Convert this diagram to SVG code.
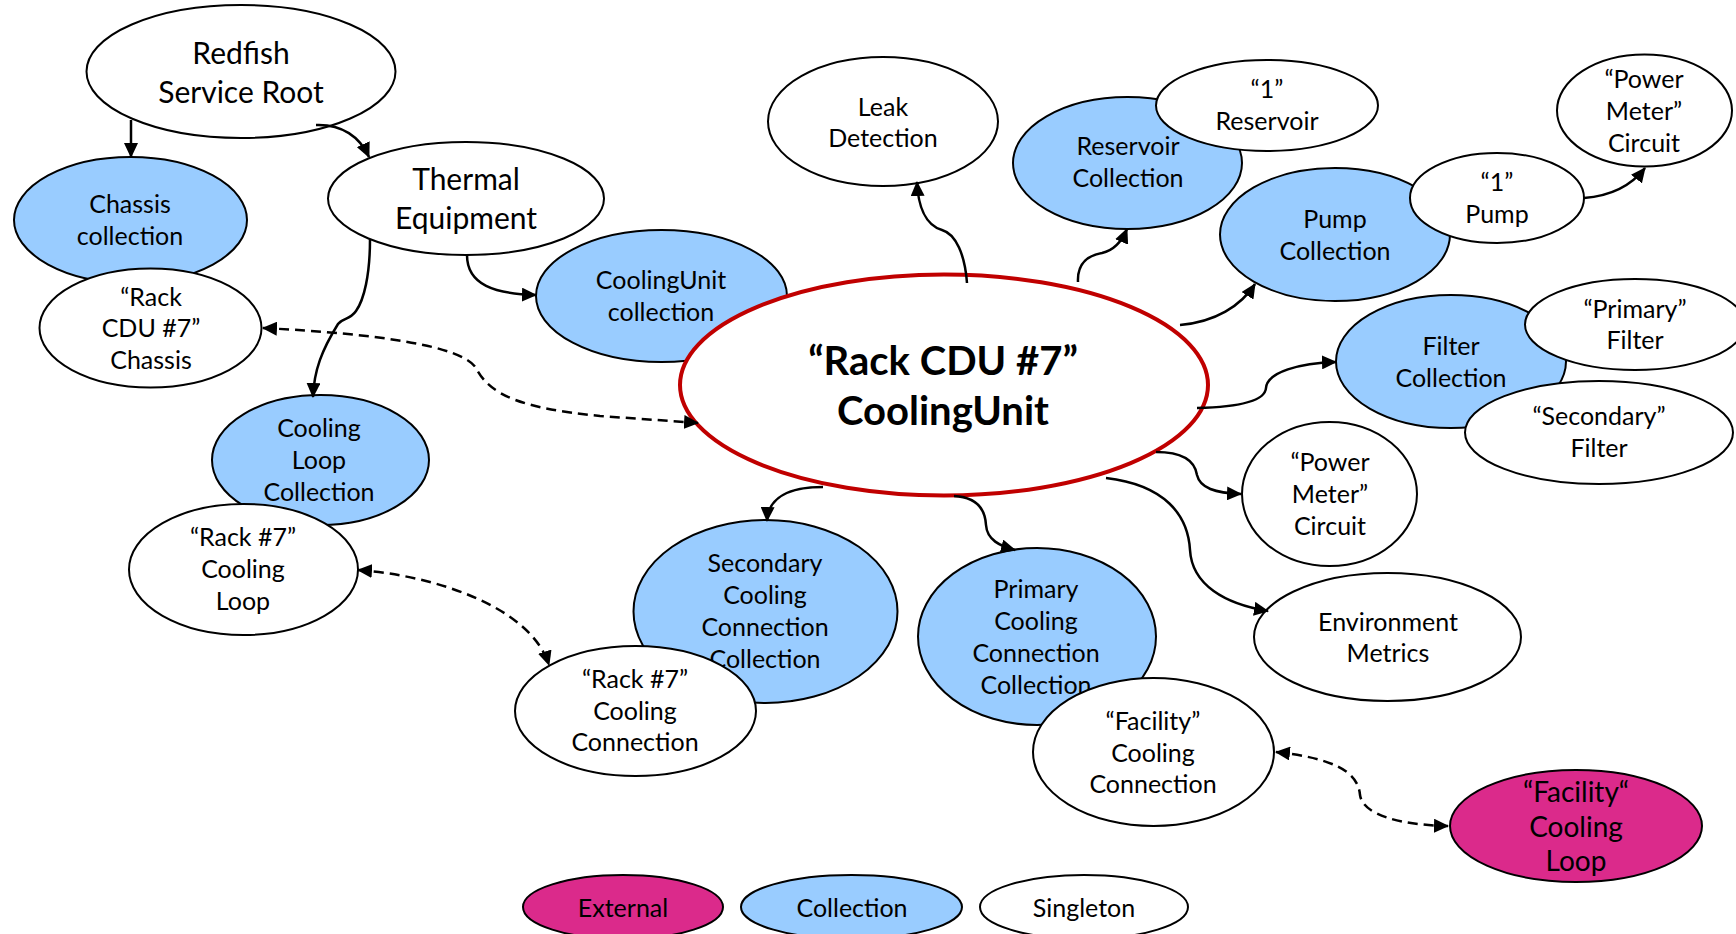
<svg xmlns="http://www.w3.org/2000/svg" width="1736" height="934" viewBox="0 0 1736 934">
<defs>
<style>
.s{fill:#fff;stroke:#000;stroke-width:2}
.c{fill:#99CCFF;stroke:#000;stroke-width:2}
.e{fill:#DB2A8B;stroke:#000;stroke-width:2}
.m{fill:#fff;stroke:#C00000;stroke-width:4}
text{font-family:Lato,"Noto Sans",sans-serif;font-size:25px;text-anchor:middle;fill:#000}
.big{font-size:30px}
.ext{font-size:28px}
.main{font-size:40px;font-weight:bold}
.conn{fill:none;stroke:#000;stroke-width:2.5}
.dash{stroke-dasharray:10 6}
</style>
<marker id="ah" viewBox="0 0 15 14" refX="14" refY="7" markerWidth="15" markerHeight="14" markerUnits="userSpaceOnUse" orient="auto-start-reverse">
<path d="M0,0 L15,7 L0,14 z" fill="#000"/>
</marker>
</defs>
<rect width="1736" height="934" fill="#fff"/>

<g id="redfish"><ellipse class="s" cx="241" cy="71.5" rx="154.5" ry="66.5"/><text class="big" x="241" y="64">Redfish</text><text class="big" x="241" y="103">Service Root</text></g>
<g id="chassis-collection"><ellipse class="c" cx="130.5" cy="220" rx="116.5" ry="63"/><text x="130" y="213">Chassis</text><text x="130" y="245">collection</text></g>
<g id="rack-cdu-chassis"><ellipse class="s" cx="150.5" cy="328" rx="111" ry="59.5"/><text x="151" y="306">“Rack</text><text x="151" y="337">CDU #7”</text><text x="151" y="369">Chassis</text></g>
<g id="thermal"><ellipse class="s" cx="466" cy="198.5" rx="138" ry="56.5"/><text class="big" x="466" y="190">Thermal</text><text class="big" x="466" y="229">Equipment</text></g>
<g id="coolingunit-collection"><ellipse class="c" cx="661.5" cy="296" rx="125.5" ry="66"/><text x="661" y="289">CoolingUnit</text><text x="661" y="321">collection</text></g>
<g id="leak"><ellipse class="s" cx="883" cy="121.5" rx="115" ry="64.5"/><text x="883" y="116">Leak</text><text x="883" y="147">Detection</text></g>
<g id="reservoir-collection"><ellipse class="c" cx="1127.5" cy="163" rx="114.5" ry="66"/><text x="1128" y="155">Reservoir</text><text x="1128" y="187">Collection</text></g>
<g id="reservoir-1"><ellipse class="s" cx="1267" cy="105.5" rx="111" ry="45.5"/><text x="1267" y="98">“1”</text><text x="1267" y="130">Reservoir</text></g>
<g id="pump-collection"><ellipse class="c" cx="1335" cy="234.5" rx="115" ry="66.5"/><text x="1335" y="228">Pump</text><text x="1335" y="260">Collection</text></g>
<g id="pump-1"><ellipse class="s" cx="1497" cy="198" rx="87" ry="45"/><text x="1497" y="191">“1”</text><text x="1497" y="223">Pump</text></g>
<g id="pump-power-meter"><ellipse class="s" cx="1644.5" cy="110.5" rx="87.5" ry="56"/><text x="1644" y="88">“Power</text><text x="1644" y="120">Meter”</text><text x="1644" y="152">Circuit</text></g>
<g id="filter-collection"><ellipse class="c" cx="1451" cy="361.5" rx="115" ry="66.5"/><text x="1451" y="355">Filter</text><text x="1451" y="387">Collection</text></g>
<g id="primary-filter"><ellipse class="s" cx="1635" cy="324.5" rx="110" ry="45.5"/><text x="1635" y="318">“Primary”</text><text x="1635" y="349">Filter</text></g>
<g id="secondary-filter"><ellipse class="s" cx="1599" cy="432.5" rx="134" ry="51.5"/><text x="1599" y="425">“Secondary”</text><text x="1599" y="457">Filter</text></g>
<g id="power-meter"><ellipse class="s" cx="1329.5" cy="494" rx="87.5" ry="72"/><text x="1330" y="471">“Power</text><text x="1330" y="503">Meter”</text><text x="1330" y="535">Circuit</text></g>
<g id="environment"><ellipse class="s" cx="1387.5" cy="637" rx="133.5" ry="64"/><text x="1388" y="631">Environment</text><text x="1388" y="662">Metrics</text></g>
<g id="primary-cc-collection"><ellipse class="c" cx="1037" cy="636.5" rx="119" ry="88.5"/><text x="1036" y="598">Primary</text><text x="1036" y="630">Cooling</text><text x="1036" y="662">Connection</text><text x="1036" y="694">Collection</text></g>
<g id="facility-cc"><ellipse class="s" cx="1153.5" cy="752" rx="120.5" ry="74"/><text x="1153" y="730">“Facility”</text><text x="1153" y="762">Cooling</text><text x="1153" y="793">Connection</text></g>
<g id="facility-loop"><ellipse class="e" cx="1576" cy="826" rx="126" ry="56"/><text class="ext" x="1576" y="802">“Facility“</text><text class="ext" x="1576" y="837">Cooling</text><text class="ext" x="1576" y="871">Loop</text></g>
<g id="secondary-cc-collection"><ellipse class="c" cx="765.5" cy="611.5" rx="132" ry="91.5"/><text x="765" y="572">Secondary</text><text x="765" y="604">Cooling</text><text x="765" y="636">Connection</text><text x="765" y="668">Collection</text></g>
<g id="rack7-cc"><ellipse class="s" cx="635.5" cy="711" rx="120.5" ry="65"/><text x="635" y="688">“Rack #7”</text><text x="635" y="720">Cooling</text><text x="635" y="751">Connection</text></g>
<g id="cooling-loop-collection"><ellipse class="c" cx="320.5" cy="460" rx="108.5" ry="65"/><text x="319" y="437">Cooling</text><text x="319" y="469">Loop</text><text x="319" y="501">Collection</text></g>
<g id="rack7-loop"><ellipse class="s" cx="243.5" cy="569.5" rx="114.5" ry="65.5"/><text x="243" y="546">“Rack #7”</text><text x="243" y="578">Cooling</text><text x="243" y="610">Loop</text></g>
<g id="coolingunit"><ellipse class="m" cx="944" cy="385" rx="264" ry="110.5"/><text class="main" x="943" y="375">“Rack CDU #7”</text><text class="main" x="943" y="425">CoolingUnit</text></g>

<g id="legend">
<g id="legend-external"><ellipse class="e" cx="623" cy="907" rx="100" ry="32"/><text x="623" y="917">External</text></g>
<g id="legend-collection"><ellipse class="c" cx="851.5" cy="907" rx="110.5" ry="32"/><text x="852" y="917">Collection</text></g>
<g id="legend-singleton"><ellipse class="s" cx="1084" cy="907" rx="104" ry="32"/><text x="1084" y="917">Singleton</text></g>
</g>

<g id="connectors">
<path class="conn" marker-end="url(#ah)" d="M131,120 L131,157"/>
<path class="conn" marker-end="url(#ah)" d="M316,125 C342,124 360,137 369,157"/>
<path class="conn" marker-end="url(#ah)" d="M467,255 C467,285 495,294 536,295"/>
<path class="conn" marker-end="url(#ah)" d="M370,239 C370,275 364,300 356,311 C350,320 342,318 338,324 C322,350 314,370 313,397"/>
<path class="conn dash" marker-start="url(#ah)" marker-end="url(#ah)" d="M263,328 C380,334 462,346 476,368 C490,395 520,408 600,416 L698,423"/>
<path class="conn" marker-end="url(#ah)" d="M967,283 C965,255 956,234 942,230 C925,225 918,205 917,182"/>
<path class="conn" marker-end="url(#ah)" d="M1078,282 C1077,262 1090,255 1102,253 C1115,250 1122,241 1127,229"/>
<path class="conn" marker-end="url(#ah)" d="M1180,325 C1215,322 1241,306 1255,284"/>
<path class="conn" marker-end="url(#ah)" d="M1584,198 C1610,196 1631,186 1645,168"/>
<path class="conn" marker-end="url(#ah)" d="M1197,408 C1240,407 1265,401 1266,388 C1267,372 1300,363 1336,362"/>
<path class="conn" marker-end="url(#ah)" d="M1156,452 C1185,452 1195,462 1197,475 C1200,488 1215,493 1241,494"/>
<path class="conn" marker-end="url(#ah)" d="M1106,478 C1165,485 1188,515 1190,550 C1192,585 1225,604 1268,611"/>
<path class="conn" marker-end="url(#ah)" d="M954,496 C975,497 985,508 986,525 C987,540 1000,546 1015,550"/>
<path class="conn" marker-end="url(#ah)" d="M823,487 C790,487 768,497 767,521"/>
<path class="conn dash" marker-start="url(#ah)" marker-end="url(#ah)" d="M358,570 C430,575 530,605 549,665"/>
<path class="conn dash" marker-start="url(#ah)" marker-end="url(#ah)" d="M1276,752 C1330,758 1358,770 1360,795 C1363,815 1400,825 1448,826"/>
</g>
</svg>
